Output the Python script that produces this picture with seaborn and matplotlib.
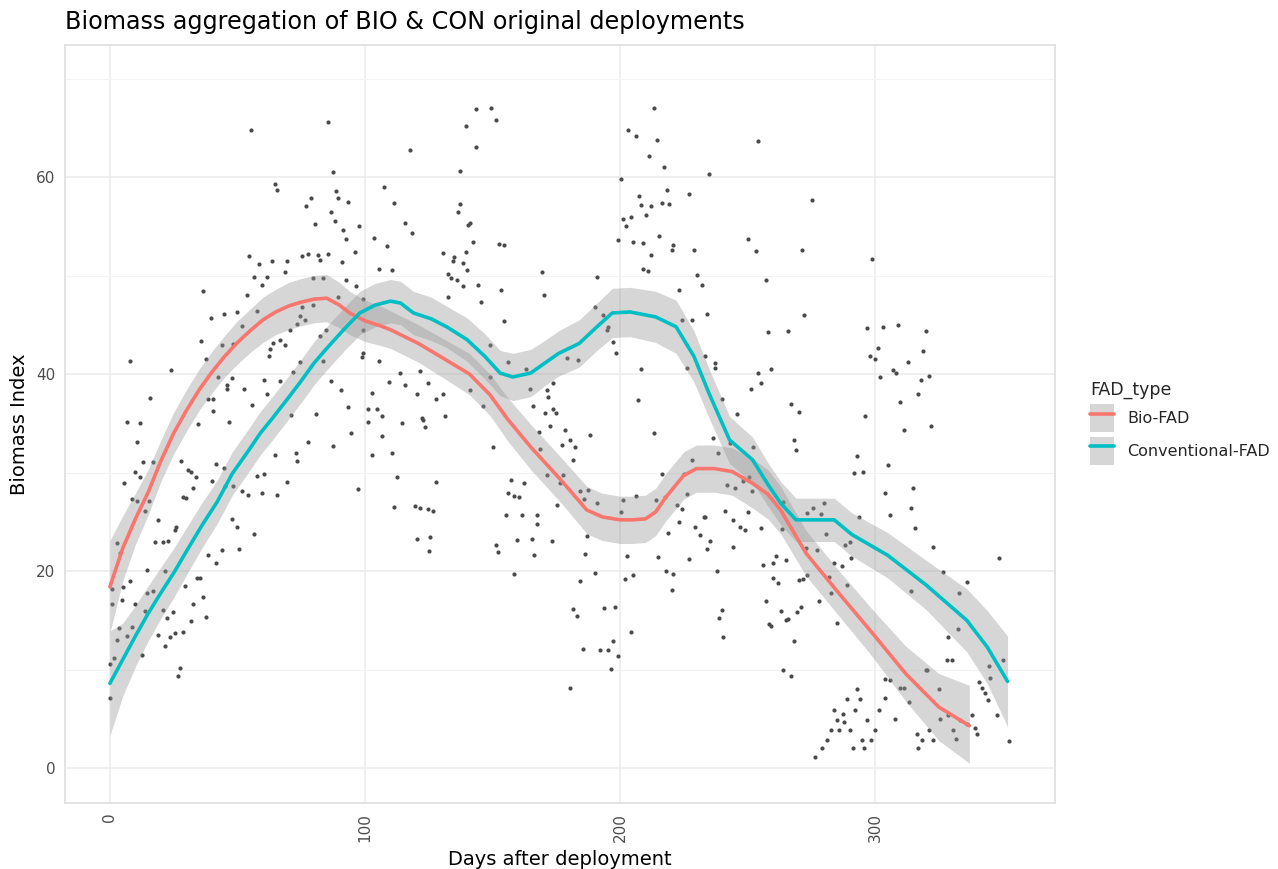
import numpy as np
import pandas as pd
import seaborn as sns
import matplotlib.pyplot as plt
from matplotlib.patches import Patch
from matplotlib.lines import Line2D

days = [
    55.5, 85.6, 87.6, 64.7, 65.6, 107.6, 88.6, 89.5, 93.5, 78.7, 76.7, 86.5, 88.4, 80.5, 91.5, 92.5, 97.6, 103.5, 108.5,
    54.6, 58.5, 63.5, 69.5, 75.5, 77.8, 81.7, 82.4, 85.6, 90.9, 96.1,
    68.6, 105.6, 56.5, 61.5, 59.6, 79.5, 83.6, 92.5, 96.5, 36.6, 53.6, 89.5, 99.3,
    39.5, 44.7, 49.7, 57.5, 74.5, 73.2, 76.5, 79.7, 75.4, 51.6, 70.6, 84.7, 82.4, 99.3,
    66.7, 68.6, 63.8, 62.7, 62.5, 35.7, 43.8, 48.4, 99.1, 98.7, 37.6, 74.5, 83.6, 105.6, 7.7, 23.8, 71.9,
    42.5, 47.7, 45.8, 45.8, 60.4, 66.7, 86.5, 52.5, 61.7, 90.6, 102.6, 15.7, 38.6, 40.5, 55.6, 93.5, 101.3, 104.6,
    106.5, 40.5, 71.2, 80.7,
    6.8, 11.8, 46.7, 34.6, 10.7, 12.8, 16.7, 27.7, 9.8, 11.8, 5.6, 30.7, 31.6, 33.7, 41.6, 44.7, 39.9, 32.7, 8.5,
    10.7, 15.4, 13.7, 28.8, 29.8, 45.1, 48.4, 51.6, 54.2, 59.5, 65.6, 57.5, 60.4, 64.7, 69.5, 77.8, 72.9, 73.5,
    87.6, 94.5, 106.5, 102.6, 97.4, 101.3,
    18.9, 26.1, 25.5, 47.7, 49.7, 56.5, 2.9, 3.9, 17.6, 20.9, 22.9, 43.8, 38.5, 41.6, 50.6, 14.6, 21.6, 0.7, 5.0,
    7.8, 0.7, 4.8, 9.8, 14.6, 16.7, 29.5, 34.0, 35.3, 36.6, 32.7, 31.6, 37.6, 20.7, 24.8, 22.5, 13.7, 3.6, 8.5,
    2.9, 6.8, 18.9, 23.5, 25.5, 28.7, 21.6, 0.0, 1.6, 12.4, 27.5, 26.8, 0.0,
    143.4, 149.4, 151.4, 139.6, 143.4, 117.6, 137.3, 213.3, 203.3, 206.3, 214.4, 211.3, 217.3, 200.3, 235.0,
    111.5, 137.3, 136.3, 115.7, 118.3, 141.2, 140.5, 110.5, 142.5, 152.5, 154.5, 130.5, 134.9, 139.6, 138.3,
    140.1, 134.4, 132.7, 133.6, 136.0, 138.3, 144.4, 169.5, 170.3, 153.2, 154.5, 145.5, 132.7, 191.1, 190.2,
    193.2, 195.4, 194.8, 197.1, 198.4,
    199.3, 201.3, 204.2, 202.4, 205.2, 209.1, 207.3, 208.1, 212.2, 210.2, 216.3, 219.3, 218.3, 227.2, 215.2,
    220.9, 220.4, 212.0, 209.1, 211.1, 229.1, 230.1, 232.0, 223.3, 234.2, 224.2, 228.1, 233.3, 226.2, 208.2, 207.2,
    113.7, 109.5, 115.7, 121.6, 124.8, 127.8, 130.5, 120.3, 131.4, 122.2,
    149.0, 156.2, 163.1, 164.7, 171.3, 171.9, 173.9, 165.8, 170.6, 173.9, 175.0, 179.1, 183.7, 149.0, 141.2, 146.4,
    254.2, 275.2, 250.3, 253.2, 271.3, 298.9, 257.3, 272.2, 258.2, 266.0, 297.0, 303.0, 309.1, 320.0, 237.3,
    237.3, 301.1, 298.0, 300.0, 318.9, 313.1, 307.2, 308.2, 301.9, 318.0, 321.2, 317.0, 309.8, 254.2, 255.2,
    259.1, 251.3, 267.1, 270.1, 296.1, 239.9, 246.0,
    114.4, 122.6, 123.5, 110.5, 112.4, 111.4, 119.6, 121.6, 124.8, 126.5, 127.8, 120.3, 125.5, 125.2,
    150.3, 157.1, 162.4, 156.2, 158.4, 160.5, 155.3, 161.5, 167.3, 167.3, 151.4, 152.3, 159.5, 165.4, 166.3,
    173.2, 158.4,
    172.5, 178.4, 188.2, 180.4, 177.1, 182.4, 181.4, 168.4, 168.6, 171.2, 177.5, 176.5, 175.2, 184.3, 187.6,
    190.9, 185.9,
    187.2, 186.3, 190.2, 184.3, 181.5, 183.3, 193.7, 198.2, 204.2, 197.1, 185.4, 192.2, 195.4, 199.3, 196.4, 180.4,
    200.3, 201.3, 206.3, 214.1, 217.6, 202.9, 215.0, 227.2, 202.0, 205.2, 218.0, 220.9, 220.3, 213.3, 216.3,
    228.1, 225.1, 222.2, 224.2, 226.2, 218.9, 223.3, 233.3, 229.4, 231.4, 234.0,
    311.4, 321.8, 293.1, 291.8, 295.2, 305.2, 268.2, 269.0, 236.3, 238.6, 243.1, 252.3, 315.0, 303.9, 305.9,
    314.0, 315.7, 322.9, 348.8, 326.8, 335.9, 333.1, 314.0, 332.4, 328.8, 328.4, 330.1, 320.3, 350.1,
    232.9, 235.3, 241.2, 244.2, 245.1, 247.1, 249.0, 250.3, 244.2, 237.9, 255.2, 263.4, 256.0, 259.9, 261.2,
    265.1, 259.9, 262.1, 257.3, 263.0, 265.1, 266.0, 269.3, 270.9, 258.6, 259.1, 268.2, 239.9, 238.9, 240.3,
    264.0, 266.9, 272.9, 277.1, 280.8, 283.9, 286.9, 290.2, 288.2, 290.8, 288.9, 270.3, 271.9, 273.2, 282.1,
    282.6, 278.2, 285.0, 293.9, 248.1, 250.7, 251.6, 248.4, 241.8, 273.4, 275.8, 280.0, 278.8, 264.0,
    293.1, 288.9, 294.1, 292.2, 283.9, 287.3, 285.0, 287.8, 282.6, 286.0, 290.2, 281.0, 279.1, 276.5, 291.2,
    295.7, 294.8, 298.3, 296.7, 300.0, 301.7, 303.9, 307.8, 303.9, 305.9, 309.8, 311.4, 313.5, 316.3, 318.3,
    321.0, 322.9, 317.0, 320.0, 325.2, 325.5, 328.8, 330.7, 331.8, 335.9, 333.3, 337.9, 339.2, 339.9, 344.2,
    345.1, 341.8, 347.7, 352.7, 340.9, 343.1, 344.8,
]
biomass = [
    64.8, 65.6, 60.5, 59.3, 58.7, 59.0, 58.6, 57.9, 57.5, 57.9, 57.1, 56.4, 55.5, 55.2, 54.6, 53.7, 55.0, 53.8, 53.0,
    52.0, 51.2, 51.5, 51.5, 52.0, 52.2, 52.1, 51.6, 52.2, 51.4, 52.4,
    50.4, 50.7, 49.9, 49.8, 49.0, 49.7, 49.7, 49.5, 48.9, 48.4, 48.0, 47.8, 47.6,
    45.7, 46.1, 46.3, 46.4, 45.9, 45.1, 45.5, 47.0, 46.8, 44.9, 44.5, 44.5, 43.9, 44.5,
    43.5, 42.9, 43.1, 42.5, 41.8, 43.4, 42.9, 43.0, 42.1, 41.7, 41.5, 41.2, 41.3, 41.3, 41.3, 40.4, 40.2,
    39.7, 39.6, 38.9, 38.5, 39.4, 39.3, 39.3, 38.5, 38.0, 38.4, 38.1, 37.6, 37.5, 37.5, 36.9, 36.7, 36.5, 36.5,
    35.7, 36.2, 35.8, 35.9,
    35.1, 35.0, 35.1, 34.9, 33.1, 31.1, 31.1, 31.2, 30.1, 29.5, 28.9, 30.3, 30.1, 29.5, 30.9, 30.5, 29.1, 28.4, 27.3,
    27.1, 27.1, 26.1, 27.5, 27.4, 28.6, 28.6, 28.1, 27.7, 27.9, 27.7, 29.6, 29.9, 31.8, 29.0, 33.1, 32.0, 31.2,
    32.7, 34.0, 33.7, 31.8, 28.3, 35.1,
    25.2, 24.5, 24.2, 25.3, 24.5, 23.8, 22.8, 21.8, 22.9, 23.0, 23.1, 22.1, 21.6, 20.8, 22.2, 20.1, 20.0, 18.2, 18.4,
    19.0, 16.7, 17.1, 16.7, 17.8, 18.0, 18.5, 19.3, 19.3, 17.4, 16.7, 14.9, 15.3, 16.0, 15.8, 15.2, 15.9, 14.2, 14.3,
    13.0, 13.4, 13.5, 13.3, 13.7, 13.8, 12.4, 10.6, 11.2, 11.5, 10.2, 9.3, 7.1,
    66.9, 67.0, 65.8, 65.2, 63.0, 62.7, 60.6, 67.0, 64.8, 64.2, 63.8, 62.1, 61.0, 59.8, 60.3,
    57.4, 57.3, 56.4, 55.3, 54.3, 55.3, 55.1, 50.6, 53.4, 53.2, 53.1, 52.3, 51.9, 52.4, 51.3,
    50.6, 51.5, 50.2, 49.7, 49.5, 48.9, 49.0, 50.4, 48.0, 48.5, 45.4, 47.3, 47.8, 49.8, 46.8,
    46.0, 44.8, 44.5, 43.3, 42.1,
    53.6, 55.7, 55.9, 55.0, 53.4, 53.3, 58.1, 57.2, 57.1, 56.1, 57.4, 57.3, 58.7, 58.3, 54.0,
    53.1, 52.6, 52.1, 50.7, 50.5, 52.6, 50.1, 49.0, 48.5, 46.1, 45.5, 45.5, 41.8, 40.6, 40.5, 37.4,
    40.1, 39.2, 38.9, 40.3, 39.1, 37.5, 38.0, 38.0, 35.7, 35.5,
    42.9, 41.2, 40.5, 38.5, 38.4, 37.7, 39.1, 36.8, 36.0, 36.5, 36.0, 41.6, 41.4, 39.7, 38.4, 36.8,
    63.7, 57.7, 53.7, 52.5, 52.6, 51.7, 49.5, 46.0, 44.3, 44.4, 44.7, 44.8, 45.0, 44.4, 41.1,
    40.6, 42.6, 41.8, 41.5, 42.3, 41.2, 40.4, 40.1, 39.7, 39.4, 39.8, 38.0, 37.2, 40.1, 39.1,
    40.5, 38.5, 37.0, 36.1, 35.7, 37.5, 35.9,
    35.0, 35.3, 34.6, 32.0, 29.5, 26.5, 26.6, 26.4, 26.3, 26.1, 29.0, 23.3, 23.5, 22.0,
    32.6, 29.2, 28.9, 27.9, 27.6, 27.5, 25.7, 25.7, 25.7, 24.8, 22.6, 21.9, 23.2, 23.3, 21.6,
    23.1, 19.7,
    34.7, 34.3, 33.8, 33.3, 32.8, 32.6, 31.3, 34.1, 32.4, 29.8, 29.7, 28.9, 26.7, 28.1, 28.2,
    26.9, 27.3,
    23.6, 21.7, 19.8, 19.0, 16.1, 15.4, 16.2, 16.4, 13.8, 12.9, 12.1, 12.0, 12.0, 11.4, 10.1, 8.1,
    26.0, 27.2, 27.6, 27.2, 27.5, 21.5, 21.4, 21.2, 19.2, 19.6, 20.0, 19.7, 18.1, 34.0, 29.9,
    31.3, 29.9, 26.7, 26.3, 27.8, 23.9, 25.0, 25.5, 24.5, 23.7, 22.2,
    34.3, 34.7, 31.7, 30.0, 30.1, 30.8, 33.3, 32.3, 33.5, 32.0, 33.0, 32.6, 28.4, 27.9, 25.7,
    26.4, 24.4, 22.4, 21.3, 19.9, 18.9, 17.8, 18.0, 14.1, 13.3, 11.0, 11.0, 10.0, 11.0,
    25.5, 23.1, 26.1, 25.2, 28.4, 24.5, 24.2, 26.0, 22.4, 20.0, 24.4, 24.3, 20.6, 20.8, 21.5,
    21.1, 19.3, 18.8, 17.0, 15.9, 15.0, 15.1, 15.8, 16.4, 14.6, 14.4, 12.9, 16.0, 15.2, 13.3,
    10.0, 9.3, 22.3, 22.1, 23.8, 20.8, 20.5, 22.9, 22.6, 21.3, 18.6, 19.1, 19.2, 19.6, 19.4,
    17.8, 17.0, 14.7, 25.5, 29.4, 29.5, 28.1, 29.1, 28.7, 25.9, 26.4, 26.9, 25.8, 27.0,
    8.0, 7.0, 7.0, 5.9, 5.9, 5.5, 4.9, 4.7, 3.9, 3.9, 3.9, 2.9, 2.0, 1.1, 2.0,
    2.0, 2.9, 2.9, 4.9, 3.9, 5.9, 7.1, 5.0, 9.0, 8.9, 8.1, 8.1, 6.7, 3.5, 2.9,
    3.9, 2.9, 2.0, 10.0, 8.0, 5.0, 5.4, 3.9, 3.0, 4.5, 4.9, 5.4, 4.1, 3.5, 6.9,
    9.1, 8.1, 5.4, 2.7, 8.7, 7.6, 10.4,
]

# loess fits with 95% bands
bio_days = [0, 5, 10, 15, 20, 25, 30, 35, 40, 45, 50, 55, 60, 65, 70, 75, 80, 85, 90, 94, 100, 106, 110,
            121, 132, 141, 149, 156, 165, 177, 187, 193, 200, 205, 210, 214, 218, 225, 230, 237, 244, 252,
            258, 263, 273, 286, 299, 312, 325, 337]
bio_fit = [18.4, 22.3, 25.3, 28.0, 31.2, 34.0, 36.3, 38.4, 40.2, 41.8, 43.2, 44.4, 45.5, 46.3, 46.9, 47.3,
           47.6, 47.7, 47.0, 46.2, 45.4, 44.9, 44.5, 43.1, 41.4, 40.0, 37.9, 35.4, 32.6, 29.2, 26.2, 25.5,
           25.2, 25.2, 25.3, 26.0, 27.5, 29.7, 30.4, 30.4, 30.1, 28.9, 27.8, 26.2, 21.8, 17.7, 13.7, 9.6,
           6.2, 4.3]
bio_lo = [13.7, 19.0, 22.7, 25.7, 29.1, 31.9, 34.2, 36.3, 38.1, 39.7, 41.0, 42.2, 43.2, 44.0, 44.5, 44.9,
          45.2, 45.3, 44.7, 44.0, 43.3, 42.9, 42.6, 41.2, 39.4, 37.9, 35.8, 33.2, 30.3, 26.9, 23.8, 23.1,
          22.8, 22.8, 22.9, 23.6, 25.1, 27.3, 28.0, 28.0, 27.7, 26.4, 25.3, 23.8, 19.5, 15.4, 11.3, 6.8,
          2.8, 0.5]
bio_hi = [23.1, 25.6, 27.9, 30.3, 33.3, 36.1, 38.4, 40.5, 42.3, 43.9, 45.4, 46.6, 47.8, 48.6, 49.3, 49.7,
          50.0, 50.1, 49.3, 48.4, 47.5, 46.9, 46.4, 45.0, 43.4, 42.1, 40.0, 37.6, 34.9, 31.5, 28.6, 27.9,
          27.6, 27.6, 27.7, 28.4, 29.9, 32.1, 32.8, 32.8, 32.5, 31.4, 30.3, 28.6, 24.1, 20.0, 16.1, 12.4,
          9.6, 8.4]

con_days = [0, 5, 10, 15, 20, 25, 30, 36, 42, 48, 54, 59, 64, 70, 75, 80, 85, 92, 98, 104, 110, 114, 119,
            126, 132, 140, 147, 153, 158, 165, 171, 176, 184, 191, 197, 204, 214, 222, 229, 235, 243, 252,
            258, 263, 269, 276, 284, 291, 305, 320, 336, 344, 352]
con_fit = [8.6, 11.0, 13.4, 15.7, 17.8, 19.8, 22.0, 24.6, 27.0, 29.9, 32.1, 34.0, 35.6, 37.6, 39.3, 41.1,
           42.6, 44.6, 46.2, 47.0, 47.4, 47.2, 46.2, 45.6, 44.8, 43.5, 41.8, 40.1, 39.7, 40.1, 41.2, 42.1,
           43.1, 44.8, 46.2, 46.3, 45.8, 44.8, 41.8, 38.0, 33.3, 31.3, 28.8, 26.9, 25.2, 25.2, 25.2, 23.7,
           21.6, 18.6, 15.0, 12.3, 8.8]
con_lo = [3.3, 7.3, 10.3, 12.9, 15.2, 17.3, 19.6, 22.3, 24.8, 27.7, 29.9, 31.8, 33.4, 35.4, 37.1, 38.9,
          40.4, 42.4, 44.0, 44.8, 45.2, 45.0, 44.0, 43.4, 42.7, 41.3, 39.5, 37.8, 37.3, 37.7, 38.9, 39.8,
          40.7, 42.4, 43.7, 43.8, 43.2, 42.1, 39.2, 35.5, 30.9, 29.0, 26.6, 24.7, 23.0, 23.0, 23.0, 21.5,
          19.3, 16.1, 11.8, 8.6, 4.2]
con_hi = [13.9, 14.7, 16.5, 18.5, 20.4, 22.3, 24.4, 26.9, 29.2, 32.1, 34.3, 36.2, 37.8, 39.8, 41.5, 43.3,
          44.8, 46.8, 48.4, 49.2, 49.6, 49.4, 48.4, 47.8, 46.9, 45.7, 44.1, 42.4, 42.1, 42.5, 43.5, 44.4,
          45.5, 47.2, 48.7, 48.8, 48.4, 47.5, 44.4, 40.5, 35.7, 33.6, 31.0, 29.1, 27.4, 27.4, 27.4, 25.9,
          23.9, 21.1, 18.2, 16.0, 13.4]

fad_types = ["Bio-FAD", "Conventional-FAD"]
palette = {"Bio-FAD": "#F8766D", "Conventional-FAD": "#00BFC4"}

points = pd.DataFrame({"days": days, "biomass": biomass})
fits = pd.concat([
    pd.DataFrame({"days": bio_days, "fit": bio_fit, "lo": bio_lo, "hi": bio_hi, "FAD_type": "Bio-FAD"}),
    pd.DataFrame({"days": con_days, "fit": con_fit, "lo": con_lo, "hi": con_hi, "FAD_type": "Conventional-FAD"}),
])

sns.set_theme(style="whitegrid")
plt.rcParams["font.family"] = ["DejaVu Sans"]

fig = plt.figure(figsize=(12.78, 8.69), dpi=100)
ax = fig.add_axes([0.0509, 0.0759, 0.7746, 0.8723])

sns.scatterplot(data=points, x="days", y="biomass", color="#4a4a4a", s=9, linewidth=0,
                ax=ax, zorder=2, legend=False)
for name, grp in fits.groupby("FAD_type"):
    ax.fill_between(grp["days"], grp["lo"], grp["hi"], color="#999999", alpha=0.4,
                    linewidth=0, zorder=3)
sns.lineplot(data=fits, x="days", y="fit", hue="FAD_type", palette=palette, linewidth=2.6,
             ax=ax, zorder=4, legend=False, sort=True)

ax.set_xlim(-17.6, 370.6)
ax.set_ylim(-3.55, 73.4)
ax.set_xticks([0, 100, 200, 300])
ax.set_yticks([0, 20, 40, 60])
ax.set_yticks([10, 30, 50, 70], minor=True)
ax.grid(True, which="major", color="#ebebeb", linewidth=1.1)
ax.grid(True, which="minor", axis="y", color="#f3f3f3", linewidth=0.8)
ax.set_axisbelow(True)
for s in ax.spines.values():
    s.set_color("#dedede")
    s.set_linewidth(1.2)
ax.tick_params(axis="both", which="major", length=4, width=0.8, color="#c8c8c8",
               labelsize=11, labelcolor="#4d4d4d", pad=3)
ax.tick_params(axis="both", which="minor", length=0)
ax.tick_params(axis="x", labelrotation=90)

ax.set_xlabel("Days after deployment", fontsize=14, color="black", labelpad=6)
ax.set_ylabel("Biomass Index", fontsize=14, color="black", labelpad=5)
fig.text(0.051, 0.9747, "Biomass aggregation of BIO & CON original deployments",
         fontsize=17.2, color="black", ha="left", va="center")

handles = [(Patch(facecolor="#999999", alpha=0.4, edgecolor="none"),
            Line2D([], [], color=palette[t], linewidth=2.6)) for t in fad_types]
fig.legend(handles, fad_types, title="FAD_type", loc="upper left",
           bbox_to_anchor=(0.842, 0.578), frameon=False, fontsize=11.5, title_fontsize=12.5,
           handlelength=1.5, handleheight=2.3, labelspacing=0.3, handletextpad=0.8,
           alignment="left")

fig.savefig("out.png", dpi=100)
